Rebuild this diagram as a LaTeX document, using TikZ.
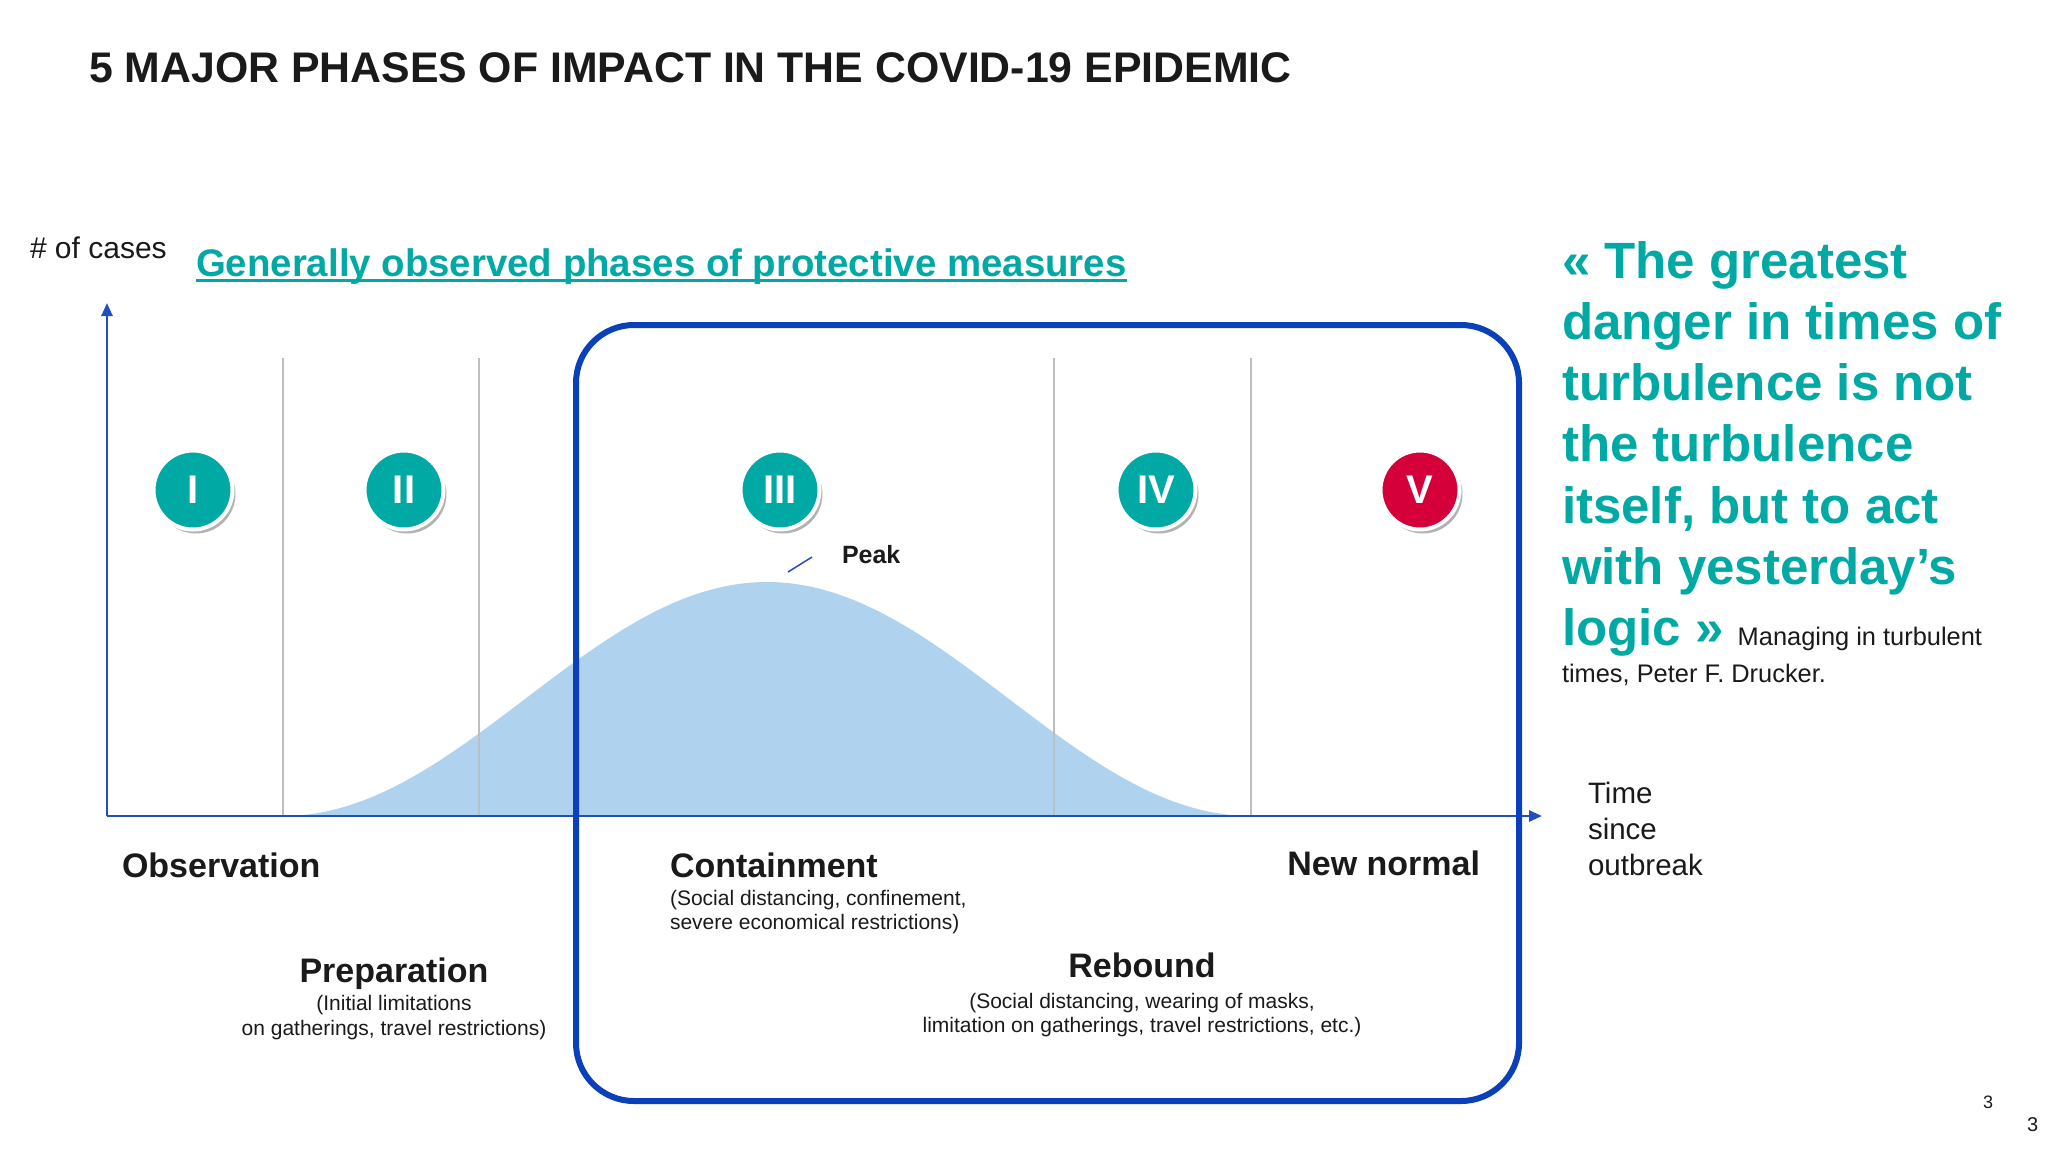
\documentclass[tikz,border=0pt]{standalone}
\usepackage{fontspec}
\setmainfont{Liberation Sans}
\usetikzlibrary{arrows.meta,shadows}
\definecolor{teal2}{RGB}{0,169,164}
\definecolor{red2}{RGB}{213,0,58}
\definecolor{boxblue}{RGB}{10,64,185}
\definecolor{axisblue}{RGB}{30,80,192}
\definecolor{curvefill}{RGB}{175,211,238}
\definecolor{gridgrey}{RGB}{190,190,190}
\definecolor{ink}{RGB}{26,26,26}
\newcommand\fsz[1]{\fontsize{#1}{#1}\selectfont}
\begin{document}
\begin{tikzpicture}[x=1pt,y=-1pt,
  txt/.style={inner sep=0pt, outer sep=0pt, text=ink},
  heading/.style={txt, font=\bfseries\fsz{34}},
  small/.style={txt, font=\fsz{21}},
  quote/.style={inner sep=0pt, outer sep=0pt, text=teal2, font=\bfseries\fsz{51}, anchor=base west},
  phase/.style={circle, minimum size=79pt, inner sep=0pt, fill=teal2, draw=white, line width=4pt,
     text=white, font=\bfseries\fsz{40},
     drop shadow={shadow xshift=3pt, shadow yshift=-4pt, opacity=0.3, fill=black}},
  grid line/.style={gridgrey, line width=1.3pt},
  axis/.style={axisblue, line width=2.5pt, -{Triangle[length=13pt,width=11pt]}}
]
\fill[white] (0,0) rectangle (2048,1152);
\useasboundingbox (0,0) rectangle (2048,1152);

% bell curve
\fill[curvefill] plot[domain=283:1251, samples=150, variable=\t]
  (\t, {816-117*(1+cos((\t-767)/484*180))}) -- cycle;

% phase separators
\foreach \gx in {283,479,1054,1251}
  \draw[grid line] (\gx,358) -- (\gx,816);

% axes
\coordinate (O) at (107,816);
\coordinate (ytop) at (107,303);
\coordinate (xend) at (1542,816);
\draw[axis] (O) -- (ytop);
\draw[axis] (O) -- (xend);

% containment/rebound frame
\draw[boxblue, line width=6pt, rounded corners=58pt] (576,325) rectangle (1519,1101);

% phase circles
\node[phase] (p1) at (193,490) {I};
\node[phase] (p2) at (404,490) {II};
\node[phase] (p3) at (780,490) {III};
\node[phase] (p4) at (1156,490) {IV};
\node[phase, fill=red2] (p5) at (1420,490) {V};

% peak
\coordinate (pk1) at (788,572);
\coordinate (pk2) at (812,557);
\draw[axisblue, line width=1.5pt] (pk1) -- (pk2);
\node[txt, font=\bfseries\fsz{25}, anchor=base west] (peak) at (842,563) {Peak};

% title and headings
\node[txt, font=\bfseries\fsz{42.8}, anchor=base west] (title) at (89,82)
  {5 MAJOR PHASES OF IMPACT IN THE COVID-19 EPIDEMIC};
\node[txt, font=\fsz{30}, anchor=base west] (ylab) at (30,258) {\# of cases};
\node[txt, text=teal2, font=\bfseries\fsz{38.4}, anchor=base west] (gen) at (196,276)
  {Generally observed phases of protective measures};
\draw[teal2, line width=2.6pt] ([yshift=-4.5pt]gen.base west) -- ([yshift=-4.5pt]gen.base east);

% phase labels
\node[heading, anchor=base west] (obs) at (122,877) {Observation};
\node[heading, anchor=base west] (cont) at (670,877) {Containment};
\node[small, anchor=base west] (contA) at (670,905) {(Social distancing, confinement,};
\node[small, anchor=base west] (contB) at (670,929) {severe economical restrictions)};
\node[heading, anchor=base] (prep) at (394,982) {Preparation};
\node[small, anchor=base] (prepA) at (394,1010) {(Initial limitations};
\node[small, anchor=base] (prepB) at (394,1035) {on gatherings, travel restrictions)};
\node[heading, anchor=base] (reb) at (1142,977) {Rebound};
\node[small, anchor=base] (rebA) at (1142,1008) {(Social distancing, wearing of masks,};
\node[small, anchor=base] (rebB) at (1142,1032) {limitation on gatherings, travel restrictions, etc.)};
\node[heading, anchor=base east] (newn) at (1480,875) {New normal};

% x axis label
\node[txt, font=\fsz{29.5}, anchor=base west] (t1) at (1588,803) {Time};
\node[txt, font=\fsz{29.5}, anchor=base west] (t2) at (1588,839) {since};
\node[txt, font=\fsz{29.5}, anchor=base west] (t3) at (1588,875) {outbreak};

% quote
\node[quote] (q1) at (1562,278) {« The greatest};
\node[quote] (q2) at (1562,339) {danger in times of};
\node[quote] (q3) at (1562,400) {turbulence is not};
\node[quote] (q4) at (1562,461) {the turbulence};
\node[quote] (q5) at (1562,523) {itself, but to act};
\node[quote] (q6) at (1562,584) {with yesterday’s};
\node[quote] (q7) at (1562,645) {logic » {\mdseries\color{ink}\fsz{25.4}Managing in turbulent}};
\node[txt, font=\fsz{25.4}, anchor=base west] (q8) at (1562,682) {times, Peter F. Drucker.};

% page numbers
\node[txt, font=\fsz{18}, anchor=base west] (pg1) at (1983,1108) {3};
\node[txt, font=\fsz{20}, anchor=base west] (pg2) at (2027,1131) {3};
\end{tikzpicture}
\end{document}
